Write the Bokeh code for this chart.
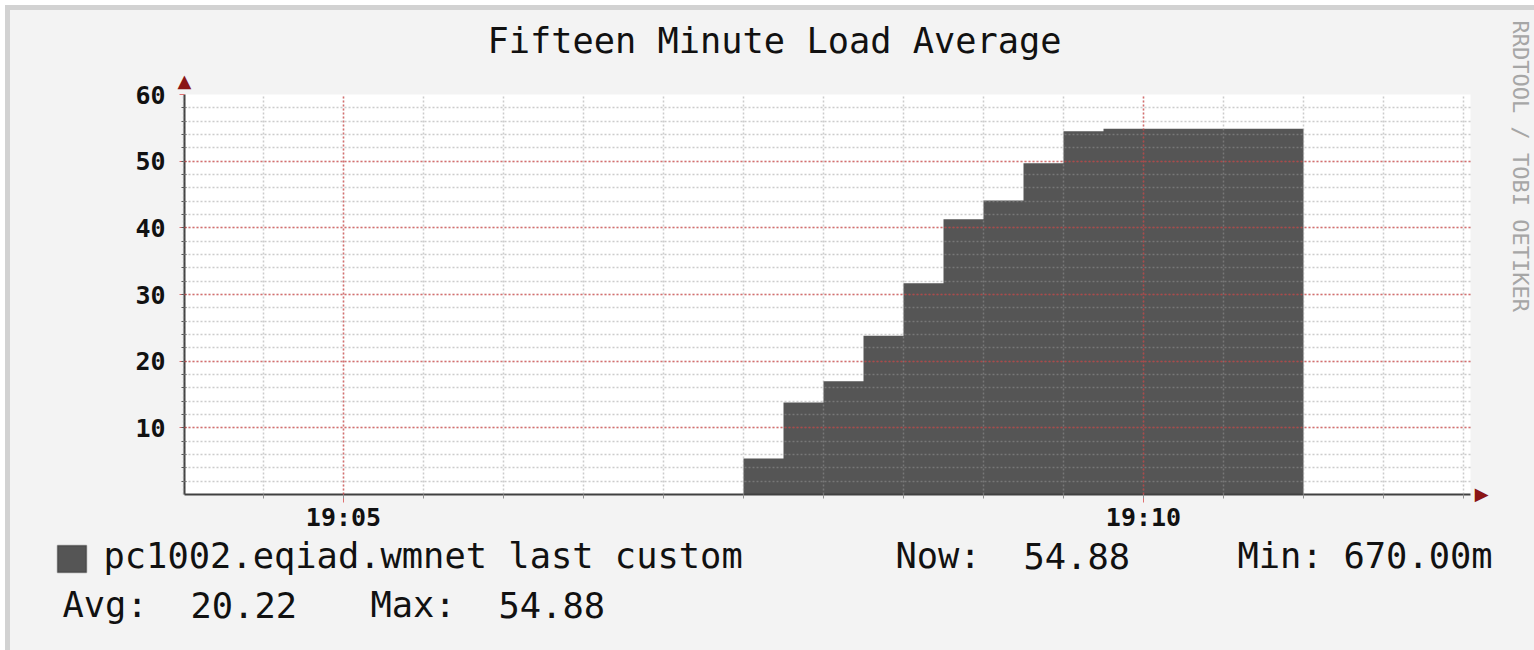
import math
import datetime as dt
from bokeh.plotting import figure
from bokeh.layouts import row, column
from bokeh.models import (Plot, Range1d, FixedTicker, DatetimeTickFormatter, Label, Title,
                          BoxAnnotation, ColumnDataSource)
from bokeh.embed import file_html
from bokeh.resources import INLINE

# ---------------- data ----------------
title_text = "Fifteen Minute Load Average"
series_name = "pc1002.eqiad.wmnet last custom"
step_times = ["19:07:30", "19:07:45", "19:08:00", "19:08:15", "19:08:30", "19:08:45",
              "19:09:00", "19:09:15", "19:09:30", "19:09:45", "19:10:00", "19:10:15",
              "19:10:30", "19:10:45"]
load15 = [5.4, 13.8, 17.0, 23.8, 31.7, 41.3, 44.1, 49.7, 54.5,
          54.88, 54.88, 54.88, 54.88, 54.88]
step_seconds = 15
view_start = "19:04:00.375"
view_end = "19:12:02.625"
x_major_times = ["19:05:00", "19:10:00"]
y_tick_values = [10, 20, 30, 40, 50, 60]
stat_now = "54.88"
stat_min = "670.00m"
stat_avg = "20.22"
stat_max = "54.88"
watermark = "RRDTOOL / TOBI OETIKER"

# ---------------- helpers ----------------
EPOCH = dt.datetime(1970, 1, 1)
DAY = dt.date(2013, 6, 13)


def to_ms(hms):
    t = dt.datetime.combine(DAY, dt.time.fromisoformat(hms))
    return (t - EPOCH).total_seconds() * 1000.0


xs = [to_ms(t) for t in step_times]
xs = xs + [xs[-1] + step_seconds * 1000.0]
ys = load15 + [load15[-1]]
src = ColumnDataSource(data=dict(x=xs, y=ys))

x0 = to_ms(view_start)
x1 = to_ms(view_end)
minor_x = []
t = to_ms("19:04:00")
while t <= x1:
    minor_x.append(t)
    t += 30000.0
major_x = [to_ms(s) for s in x_major_times]
minor_y = [v for v in range(2, 60, 2)]

FONT = "DejaVu Sans Mono"
TEXT = "#111111"
BG = "#f3f3f3"
HEAD = "#8a1515"
HAS_FA = "frame_align" in Plot.properties()
EXTRA = {"frame_align": False} if HAS_FA else {}
BL = 13  # alphabetic-baseline correction (px)


def blank(width, height):
    f = figure(width=width, height=height, output_backend="svg", toolbar_location=None,
               x_axis_location=None, y_axis_location=None, min_border=0,
               x_range=Range1d(0, 1), y_range=Range1d(0, 1),
               background_fill_color=BG, border_fill_color=BG, **EXTRA)
    f.outline_line_color = None
    f.grid.visible = False
    return f


def lab(fig, text, x, y, size, color=TEXT, align="left", baseline="alphabetic",
        angle=0.0, font=FONT):
    fig.add_layout(Label(x=x, y=y, x_units="screen", y_units="screen", text=text,
                         text_font=font, text_font_size=f"{size}px", text_color=color,
                         text_align=align, text_baseline=baseline, angle=angle))


# ---------------- title strip ----------------
p_title = blank(1490, 54)
lab(p_title, title_text, 764, 11 + BL, 35.3, align="center")

# ---------------- main plot ----------------
p = figure(width=1490, height=470, output_backend="svg", toolbar_location=None,
           x_axis_type="datetime", x_range=Range1d(x0, x1), y_range=Range1d(0, 60),
           min_border_left=174, min_border_right=30, min_border_top=30,
           min_border_bottom=38, background_fill_color="white",
           border_fill_color=BG, **EXTRA)
p.outline_line_color = None

p.varea_step(x="x", y1=0, y2="y", step_mode="after", source=src,
             fill_color="#555555", fill_alpha=1.0)

xt = FixedTicker(ticks=major_x, minor_ticks=minor_x)
yt = FixedTicker(ticks=y_tick_values, minor_ticks=minor_y)
p.xaxis.ticker = xt
p.xgrid.ticker = xt
p.yaxis.ticker = yt
p.ygrid.ticker = yt
fmt = "%H:%M"
p.xaxis.formatter = DatetimeTickFormatter(microseconds=fmt, milliseconds=fmt, seconds=fmt,
                                          minsec=fmt, minutes=fmt, hourmin=fmt, hours=fmt)

for g in (p.xgrid, p.ygrid):
    g.level = "guide"
    g.grid_line_color = "#e02020"
    g.grid_line_alpha = 0.55
    g.grid_line_dash = "2 2"
    g.grid_line_width = 1.5
    g.minor_grid_line_color = "#999999"
    g.minor_grid_line_alpha = 0.5
    g.minor_grid_line_dash = "2 2"
    g.minor_grid_line_width = 1.5

p.axis.axis_line_color = "#404040"
p.axis.axis_line_width = 2
p.axis.major_label_text_font = FONT
p.axis.major_label_text_font_size = "25px"
p.axis.major_label_text_font_style = "bold"
p.axis.major_label_text_color = TEXT

p.xaxis.major_tick_in = 0
p.xaxis.major_tick_out = 8
p.xaxis.major_tick_line_color = "#e07070"
p.xaxis.minor_tick_in = 0
p.xaxis.minor_tick_out = 4
p.xaxis.minor_tick_line_color = "#909090"
p.xaxis.major_label_standoff = 0

p.yaxis.major_tick_in = 0
p.yaxis.major_tick_out = 5
p.yaxis.major_tick_line_color = "#e07070"
p.yaxis.minor_tick_in = 2
p.yaxis.minor_tick_out = 3
p.yaxis.minor_tick_line_color = "#555555"
p.yaxis.major_label_standoff = 14

# axis arrow heads (side-panel titles so they are not clipped to the frame)
p.add_layout(Title(text="\u25B2", align="left", offset=-7, vertical_align="top",
                   standoff=3, text_font="DejaVu Sans", text_font_size="18px",
                   text_color=HEAD, text_font_style="normal"), "above")
p.add_layout(Title(text="\u25B2", align="left", offset=394, vertical_align="top",
                   standoff=0, text_font="DejaVu Sans", text_font_size="18px",
                   text_color=HEAD, text_font_style="normal"), "right")

# ---------------- legend strip ----------------
p_leg = blank(1490, 116)
p_leg.add_layout(BoxAnnotation(left=47, right=76, bottom=78, top=105,
                               left_units="screen", right_units="screen",
                               bottom_units="screen", top_units="screen",
                               fill_color="#555555", fill_alpha=1.0,
                               line_color="black", line_width=1.5))
LS = 35.4
R1 = 82 + BL
R2 = 33 + BL
lab(p_leg, series_name, 93, R1, LS)
lab(p_leg, "Now:", 885, R1, LS)
lab(p_leg, stat_now, 1013, R1, LS)
lab(p_leg, "Min:", 1227, R1, LS)
lab(p_leg, stat_min, 1333, R1, LS)
lab(p_leg, "Avg:", 52, R2, LS)
lab(p_leg, stat_avg, 180, R2, LS)
lab(p_leg, "Max:", 360, R2, LS)
lab(p_leg, stat_max, 488, R2, LS)

# ---------------- watermark strip ----------------
p_mark = blank(34, 640)
lab(p_mark, watermark, 20, 630, 22, color="#a6a6a6", baseline="middle",
    angle=-math.pi / 2)

layout = row(column(p_title, p, p_leg), p_mark)
layout.styles = {"margin-left": "5px", "margin-top": "5px",
                 "border-left": "5px solid #d2d2d2", "border-top": "5px solid #d2d2d2",
                 "box-sizing": "content-box", "background-color": BG}

open("out.html", "w").write(file_html(layout, INLINE))
